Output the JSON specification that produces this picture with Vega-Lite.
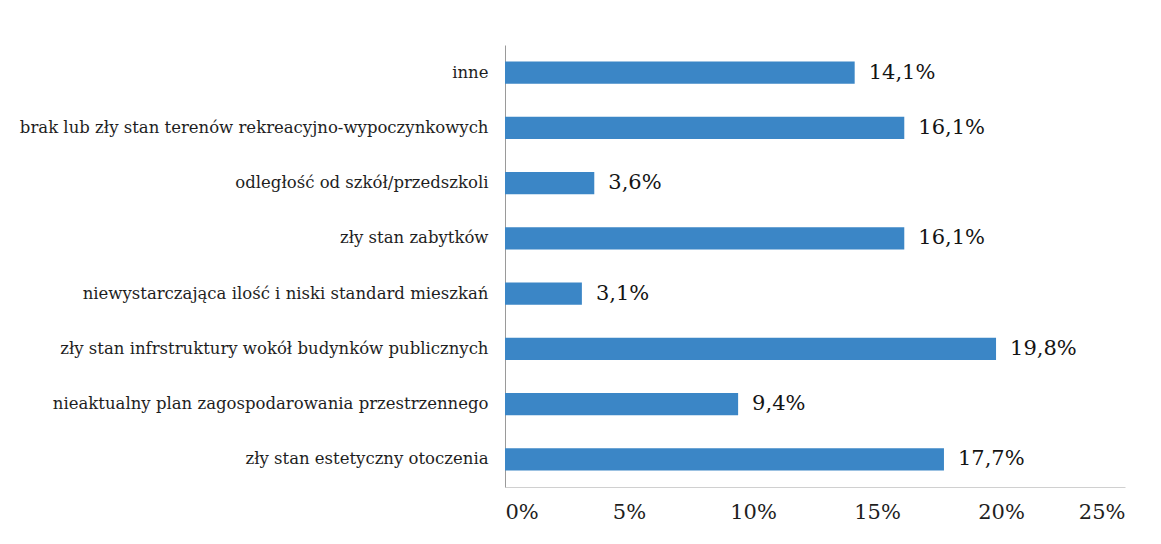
{
  "$schema": "https://vega.github.io/schema/vega-lite/v6.json",
  "autosize": "none",
  "width": 620,
  "height": 442,
  "padding": {"left": 505, "top": 45, "right": 36, "bottom": 57},
  "background": "white",
  "config": {
    "view": {"stroke": null},
    "font": "DejaVu Serif",
    "locale": {"number": {"decimal": ",", "thousands": " ", "grouping": [3], "currency": ["", " zł"]}}
  },
  "data": {
    "values": [
      {"kategoria": "inne", "wartosc": 0.141},
      {"kategoria": "brak lub zły stan terenów rekreacyjno-wypoczynkowych", "wartosc": 0.161},
      {"kategoria": "odległość od szkół/przedszkoli", "wartosc": 0.036},
      {"kategoria": "zły stan zabytków", "wartosc": 0.161},
      {"kategoria": "niewystarczająca ilość i niski standard mieszkań", "wartosc": 0.031},
      {"kategoria": "zły stan infrstruktury wokół budynków publicznych", "wartosc": 0.198},
      {"kategoria": "nieaktualny plan zagospodarowania przestrzennego", "wartosc": 0.094},
      {"kategoria": "zły stan estetyczny otoczenia", "wartosc": 0.177}
    ]
  },
  "encoding": {
    "y": {
      "field": "kategoria",
      "type": "nominal",
      "sort": null,
      "scale": {"paddingInner": 0.6, "paddingOuter": 0.3},
      "axis": {
        "title": null,
        "ticks": false,
        "domainColor": "#9a9a9a",
        "labelFont": "DejaVu Serif",
        "labelFontSize": 16.5,
        "labelColor": "#1e1e1e",
        "labelPadding": 17,
        "labelLimit": 600
      }
    },
    "x": {
      "field": "wartosc",
      "type": "quantitative",
      "scale": {"domain": [0, 0.25], "nice": false},
      "axis": {
        "title": null,
        "format": ".0%",
        "values": [0, 0.05, 0.1, 0.15, 0.2, 0.25],
        "ticks": false,
        "grid": false,
        "domainColor": "#d0d0d0",
        "labelFont": "DejaVu Serif",
        "labelFontSize": 21,
        "labelColor": "#1e1e1e",
        "labelPadding": 14
      }
    }
  },
  "layer": [
    {"mark": {"type": "bar", "color": "#3b86c6"}},
    {
      "mark": {"type": "text", "align": "left", "baseline": "middle", "dx": 14, "fontSize": 21, "font": "DejaVu Serif", "color": "#141414"},
      "encoding": {"text": {"field": "wartosc", "type": "quantitative", "format": ".1%"}}
    }
  ]
}
